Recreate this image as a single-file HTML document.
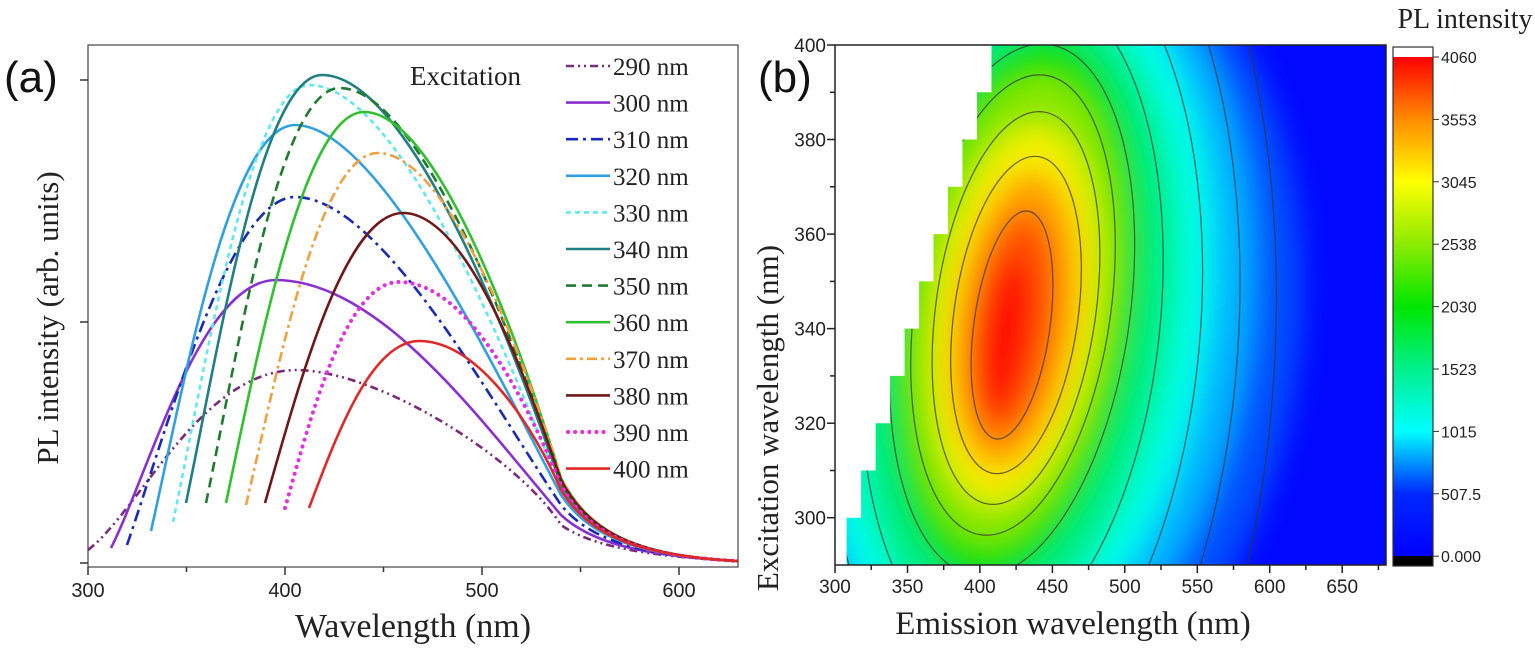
<!DOCTYPE html>
<html><head><meta charset="utf-8"><style>
html,body{margin:0;padding:0;background:#fff;width:1535px;height:659px;overflow:hidden;}
svg{display:block;}
</style></head><body>
<svg width="1535" height="659" xmlns="http://www.w3.org/2000/svg" style="overflow:hidden">
<defs>
<filter id="bl" x="-50%" y="-50%" width="200%" height="200%"><feGaussianBlur stdDeviation="14"/></filter>
<clipPath id="pc"><rect x="835" y="45" width="551" height="520"/></clipPath>
<linearGradient id="cbg" x1="0" y1="0" x2="0" y2="1">
<stop offset="0" stop-color="#ff0000"/>
<stop offset="0.125" stop-color="#ff8c00"/>
<stop offset="0.25" stop-color="#ffff00"/>
<stop offset="0.375" stop-color="#8ceb00"/>
<stop offset="0.5" stop-color="#00e600"/>
<stop offset="0.625" stop-color="#00f08c"/>
<stop offset="0.75" stop-color="#00ffff"/>
<stop offset="0.875" stop-color="#0028ff"/>
<stop offset="1" stop-color="#0000ff"/>
</linearGradient>
</defs>

<g fill="none" stroke-width="2.6">
<path d="M88,550 C140,510 200,372 295,370 C380,370 520,460 561,525 C590,545 640,556 738,561" stroke="#7a2a7a" stroke-dasharray="8 4 2 4 2 4"/>
<path d="M111,548 C150,470 200,282 275,280 C380,280 480,420 561,515 C590,542 640,556 738,561" stroke="#8a30d0"/>
<path d="M127,545 C170,420 230,197 295,197 C380,197 490,400 561,505 C590,540 640,556 738,561" stroke="#1a2ab8" stroke-dasharray="12 5 3 5"/>
<path d="M151,531 C185,380 230,125 295,125 C380,125 500,380 561,495 C590,538 640,556 738,561" stroke="#30a0e0"/>
<path d="M173,522 C207,360 250,85 309,85 C400,85 510,360 561,490 C590,537 640,556 738,561" stroke="#60e8f0" stroke-dasharray="5 4"/>
<path d="M186,503 C220,340 262,75 322,75 C410,75 515,350 561,485 C590,535 640,556 738,561" stroke="#207f80"/>
<path d="M206,503 C240,340 280,88 340,88 C420,88 520,350 561,482 C590,535 640,556 738,561" stroke="#207a30" stroke-dasharray="10 6"/>
<path d="M226,503 C260,340 305,112 364,112 C440,112 525,360 561,478 C590,535 640,556 738,561" stroke="#30c030"/>
<path d="M246,505 C280,360 320,153 378,153 C450,153 528,370 561,478 C590,535 640,556 738,561" stroke="#f0a040" stroke-dasharray="10 4 3 4"/>
<path d="M265,503 C300,380 345,213 403,213 C470,213 530,390 561,480 C590,535 640,556 738,561" stroke="#701818"/>
<path d="M285,508 C310,420 345,282 399,282 C470,282 530,410 561,485 C590,537 640,556 738,561" stroke="#e030e0" stroke-width="4" stroke-dasharray="0.1 7" stroke-linecap="round"/>
<path d="M309,508 C335,440 370,341 419,341 C480,341 535,430 561,490 C590,537 640,556 738,561" stroke="#e02828"/>
</g>
<rect x="88" y="45" width="650" height="522" fill="none" stroke="#444" stroke-width="1.2"/>
<g stroke="#333" stroke-width="1.5">
<line x1="88" y1="567" x2="88" y2="575"/><line x1="186.5" y1="567" x2="186.5" y2="572"/>
<line x1="285" y1="567" x2="285" y2="575"/><line x1="383.5" y1="567" x2="383.5" y2="572"/>
<line x1="482" y1="567" x2="482" y2="575"/><line x1="580.5" y1="567" x2="580.5" y2="572"/>
<line x1="679" y1="567" x2="679" y2="575"/>
<line x1="80" y1="80" x2="88" y2="80"/><line x1="80" y1="322" x2="88" y2="322"/><line x1="80" y1="563" x2="88" y2="563"/>
</g>
<g font-family="Liberation Sans, sans-serif" font-size="20" fill="#222" text-anchor="middle">
<text x="88" y="597">300</text><text x="285" y="597">400</text><text x="482" y="597">500</text><text x="679" y="597">600</text>
</g>
<g fill="none" stroke-width="2.6">
<line x1="566" y1="66" x2="610" y2="66" stroke="#7a2a7a" stroke-dasharray="8 4 2 4 2 4"/>
<line x1="566" y1="102.6" x2="610" y2="102.6" stroke="#8a30d0"/>
<line x1="566" y1="139.2" x2="610" y2="139.2" stroke="#1a2ab8" stroke-dasharray="12 5 3 5"/>
<line x1="566" y1="175.8" x2="610" y2="175.8" stroke="#30a0e0"/>
<line x1="566" y1="212.4" x2="610" y2="212.4" stroke="#60e8f0" stroke-dasharray="5 4"/>
<line x1="566" y1="249" x2="610" y2="249" stroke="#207f80"/>
<line x1="566" y1="285.6" x2="610" y2="285.6" stroke="#207a30" stroke-dasharray="10 6"/>
<line x1="566" y1="322.2" x2="610" y2="322.2" stroke="#30c030"/>
<line x1="566" y1="358.8" x2="610" y2="358.8" stroke="#f0a040" stroke-dasharray="10 4 3 4"/>
<line x1="566" y1="395.4" x2="610" y2="395.4" stroke="#701818"/>
<line x1="568" y1="432" x2="610" y2="432" stroke="#e030e0" stroke-width="4" stroke-dasharray="0.1 7" stroke-linecap="round"/>
<line x1="566" y1="468.6" x2="610" y2="468.6" stroke="#e02828"/>
</g>
<g font-family="Liberation Serif, serif" font-size="25" fill="#222">
<text x="613" y="75">290 nm</text><text x="613" y="111.6">300 nm</text><text x="613" y="148.2">310 nm</text>
<text x="613" y="184.8">320 nm</text><text x="613" y="221.4">330 nm</text><text x="613" y="258">340 nm</text>
<text x="613" y="294.6">350 nm</text><text x="613" y="331.2">360 nm</text><text x="613" y="367.8">370 nm</text>
<text x="613" y="404.4">380 nm</text><text x="613" y="441">390 nm</text><text x="613" y="477.6">400 nm</text>
<text x="410" y="85" font-size="27">Excitation</text>
</g>
<text x="4" y="92" font-family="Liberation Sans, sans-serif" font-size="44" fill="#111">(a)</text>
<text transform="translate(58,318) rotate(-90)" font-family="Liberation Serif, serif" font-size="31" text-anchor="middle" fill="#222">PL intensity (arb. units)</text>
<text x="413" y="637" font-family="Liberation Serif, serif" font-size="34" text-anchor="middle" fill="#222">Wavelength (nm)</text>

<g clip-path="url(#pc)">
<rect x="835" y="45" width="551" height="520" fill="#0008ff"/>
<g filter="url(#bl)">
<ellipse cx="1000" cy="330" rx="300" ry="430" fill="#0050ff" transform="rotate(8 1000 330)"/>
<ellipse cx="1010" cy="320" rx="240" ry="390" fill="#00b4ff" transform="rotate(8 1010 320)"/>
<ellipse cx="1015" cy="315" rx="195" ry="355" fill="#00ffe8" transform="rotate(8 1015 315)"/>
<ellipse cx="1015" cy="315" rx="160" ry="320" fill="#00f08c" transform="rotate(8 1015 315)"/>
<ellipse cx="1015" cy="310" rx="125" ry="280" fill="#10e010" transform="rotate(8 1015 310)"/>
<ellipse cx="1015" cy="310" rx="100" ry="235" fill="#8ce800" transform="rotate(8 1015 310)"/>
<ellipse cx="1015" cy="315" rx="80" ry="190" fill="#f5f000" transform="rotate(8 1015 315)"/>
<ellipse cx="1015" cy="320" rx="60" ry="150" fill="#ffa000" transform="rotate(8 1015 320)"/>
<ellipse cx="1012" cy="325" rx="42" ry="115" fill="#ff5000" transform="rotate(8 1012 325)"/>
<ellipse cx="1005" cy="335" rx="25" ry="80" fill="#ff1000" transform="rotate(8 1005 335)"/>
</g>
<g fill="none" stroke="#333" stroke-width="1.2" stroke-opacity="0.75">
<ellipse cx="1012" cy="325" rx="38" ry="115" transform="rotate(8 1012 325)"/>
<ellipse cx="1016" cy="315" rx="62" ry="160" transform="rotate(8 1016 315)"/>
<ellipse cx="1016" cy="308" rx="80" ry="198" transform="rotate(8 1016 308)"/>
<ellipse cx="1013" cy="305" rx="98" ry="232" transform="rotate(8 1013 305)"/>
<ellipse cx="1012" cy="310" rx="118" ry="268" transform="rotate(8 1012 310)"/>
<ellipse cx="1012" cy="320" rx="148" ry="330" transform="rotate(6 1012 320)"/>
<ellipse cx="1015" cy="330" rx="185" ry="400" transform="rotate(5 1015 330)"/>
<ellipse cx="1020" cy="340" rx="218" ry="480" transform="rotate(4 1020 340)"/>
<ellipse cx="1030" cy="350" rx="245" ry="560" transform="rotate(3 1030 350)"/>
</g>
<polygon fill="#fff" points="835,565 846.6,565 846.6,517.7 861.1,517.7 861.1,470.5 875.6,470.5 875.6,423.2 890.1,423.2 890.1,375.9 904.6,375.9 904.6,328.6 919.1,328.6 919.1,281.4 933.5,281.4 933.5,234.1 948,234.1 948,186.8 962.5,186.8 962.5,139.5 977,139.5 977,92.3 991.5,92.3 991.5,45 835,45"/>
</g>
<rect x="835" y="45" width="551" height="520" fill="none" stroke="#222" stroke-width="1.5"/>
<g stroke="#222" stroke-width="1.5">
<line x1="835" y1="565" x2="835" y2="573"/><line x1="871.2" y1="565" x2="871.2" y2="570"/>
<line x1="907.5" y1="565" x2="907.5" y2="573"/><line x1="943.7" y1="565" x2="943.7" y2="570"/>
<line x1="979.9" y1="565" x2="979.9" y2="573"/><line x1="1016.1" y1="565" x2="1016.1" y2="570"/>
<line x1="1052.4" y1="565" x2="1052.4" y2="573"/><line x1="1088.6" y1="565" x2="1088.6" y2="570"/>
<line x1="1124.8" y1="565" x2="1124.8" y2="573"/><line x1="1161" y1="565" x2="1161" y2="570"/>
<line x1="1197.3" y1="565" x2="1197.3" y2="573"/><line x1="1233.5" y1="565" x2="1233.5" y2="570"/>
<line x1="1269.7" y1="565" x2="1269.7" y2="573"/><line x1="1305.9" y1="565" x2="1305.9" y2="570"/>
<line x1="1342.2" y1="565" x2="1342.2" y2="573"/><line x1="1378.4" y1="565" x2="1378.4" y2="570"/>
<line x1="827" y1="517.7" x2="835" y2="517.7"/><line x1="830" y1="470.5" x2="835" y2="470.5"/>
<line x1="827" y1="423.2" x2="835" y2="423.2"/><line x1="830" y1="375.9" x2="835" y2="375.9"/>
<line x1="827" y1="328.6" x2="835" y2="328.6"/><line x1="830" y1="281.4" x2="835" y2="281.4"/>
<line x1="827" y1="234.1" x2="835" y2="234.1"/><line x1="830" y1="186.8" x2="835" y2="186.8"/>
<line x1="827" y1="139.5" x2="835" y2="139.5"/><line x1="830" y1="92.3" x2="835" y2="92.3"/>
<line x1="827" y1="45" x2="835" y2="45"/>
</g>
<g font-family="Liberation Sans, sans-serif" font-size="19" fill="#222" text-anchor="middle">
<text x="835" y="593">300</text><text x="907.5" y="593">350</text><text x="979.9" y="593">400</text>
<text x="1052.4" y="593">450</text><text x="1124.8" y="593">500</text><text x="1197.3" y="593">550</text>
<text x="1269.7" y="593">600</text><text x="1342.2" y="593">650</text>
</g>
<g font-family="Liberation Sans, sans-serif" font-size="19" fill="#222" text-anchor="end">
<text x="826" y="524.7">300</text><text x="826" y="430.2">320</text><text x="826" y="335.6">340</text>
<text x="826" y="241.1">360</text><text x="826" y="146.5">380</text><text x="826" y="52">400</text>
</g>
<text x="758" y="92" font-family="Liberation Sans, sans-serif" font-size="44" fill="#111">(b)</text>
<text transform="translate(778,418) rotate(-90)" font-family="Liberation Serif, serif" font-size="31" text-anchor="middle" fill="#222">Excitation wavelength (nm)</text>
<text x="1073" y="634" font-family="Liberation Serif, serif" font-size="33" text-anchor="middle" fill="#222">Emission wavelength (nm)</text>
<text x="1465" y="28" font-family="Liberation Serif, serif" font-size="28" text-anchor="middle" fill="#222">PL intensity</text>
<rect x="1393" y="47" width="40" height="10" fill="#fff"/>
<rect x="1393" y="57" width="40" height="499" fill="url(#cbg)"/>
<rect x="1393" y="556" width="40" height="10" fill="#000"/>
<rect x="1393" y="47" width="40" height="519" fill="none" stroke="#333" stroke-width="1.2"/>
<g stroke="#333"><line x1="1433" y1="57" x2="1439" y2="57"/><line x1="1433" y1="119.4" x2="1439" y2="119.4"/><line x1="1433" y1="181.8" x2="1439" y2="181.8"/><line x1="1433" y1="244.2" x2="1439" y2="244.2"/><line x1="1433" y1="306.6" x2="1439" y2="306.6"/><line x1="1433" y1="369" x2="1439" y2="369"/><line x1="1433" y1="431.4" x2="1439" y2="431.4"/><line x1="1433" y1="493.8" x2="1439" y2="493.8"/><line x1="1433" y1="556.2" x2="1439" y2="556.2"/></g>
<g font-family="Liberation Sans, sans-serif" font-size="16" fill="#222">
<text x="1441" y="63">4060</text><text x="1441" y="125.4">3553</text><text x="1441" y="187.8">3045</text>
<text x="1441" y="250.2">2538</text><text x="1441" y="312.6">2030</text><text x="1441" y="375">1523</text>
<text x="1441" y="437.4">1015</text><text x="1441" y="499.8">507.5</text><text x="1441" y="562.2">0.000</text>
</g>
</svg>
</body></html>
